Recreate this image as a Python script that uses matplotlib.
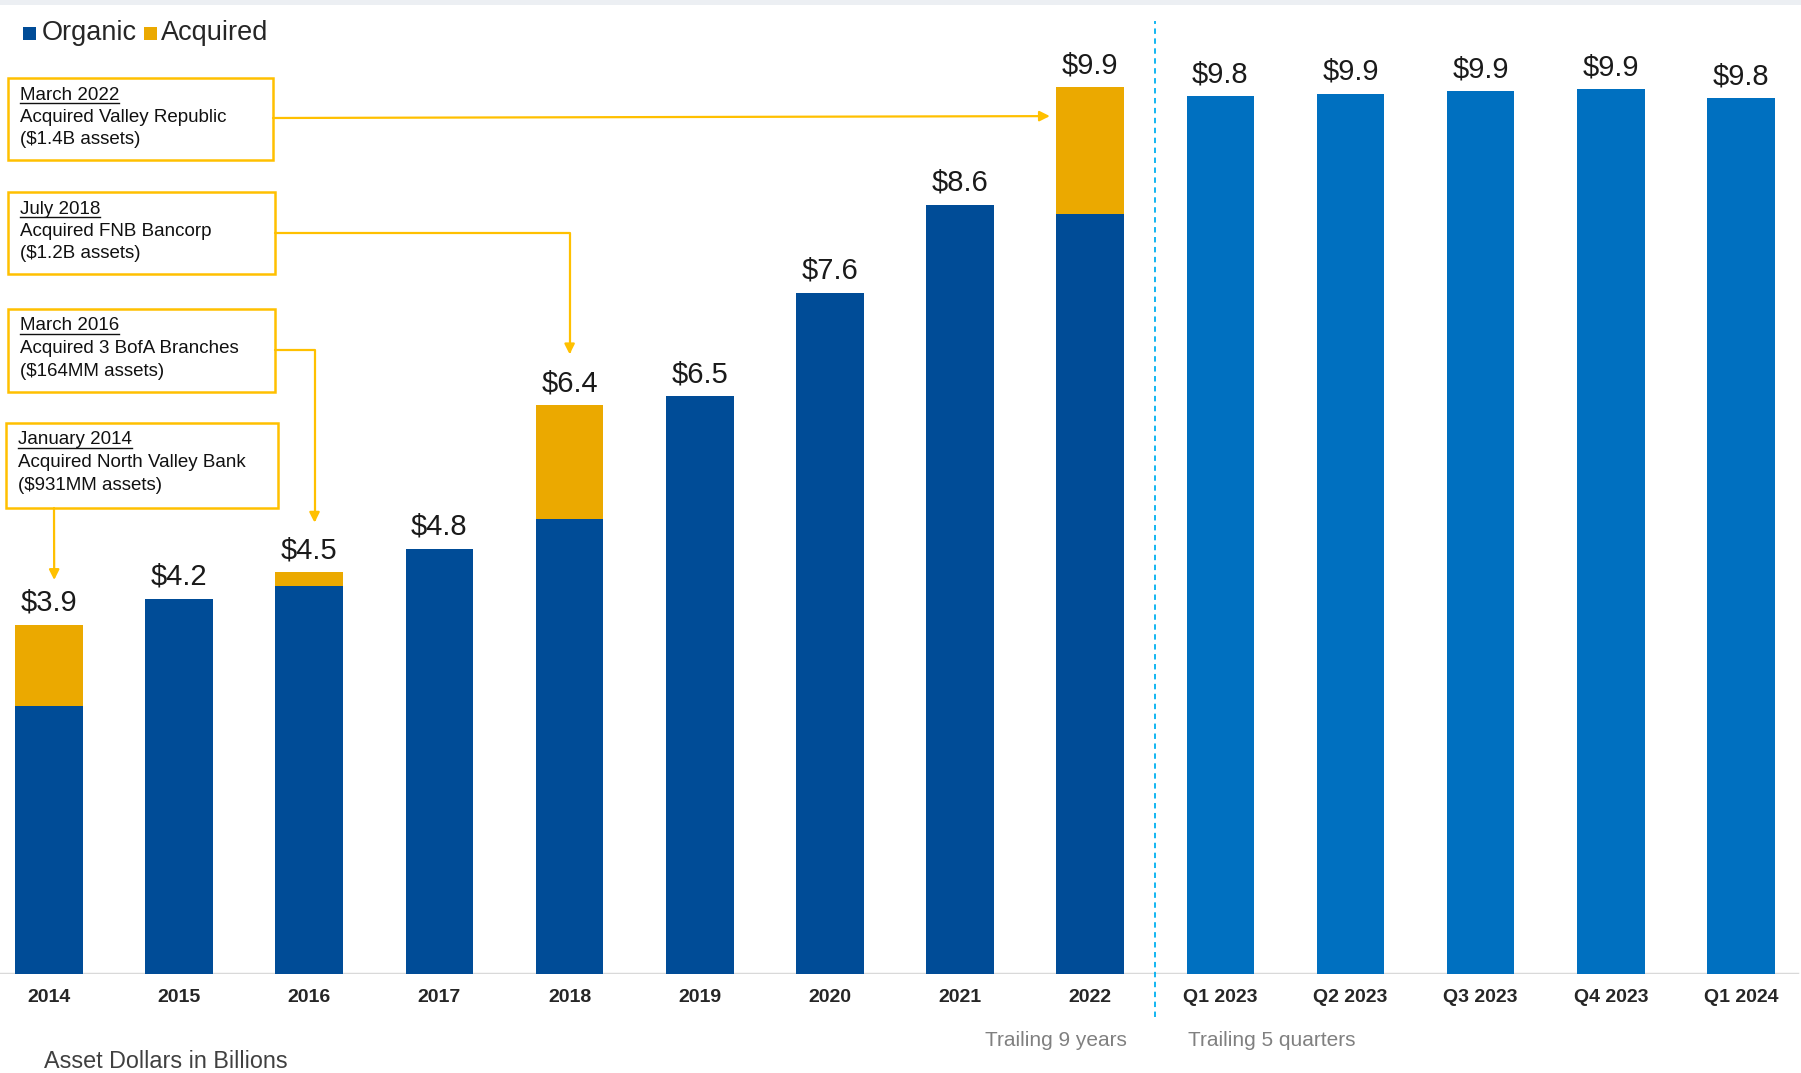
import matplotlib
matplotlib.use('Agg')
import matplotlib.pyplot as plt
import numpy as np
from matplotlib.patches import Rectangle
from matplotlib.lines import Line2D

plt.rcParams['font.family'] = ['Liberation Sans', 'DejaVu Sans']

# data (asset dollars in billions)
periods = ['2014', '2015', '2016', '2017', '2018', '2019', '2020', '2021', '2022',
           'Q1 2023', 'Q2 2023', 'Q3 2023', 'Q4 2023', 'Q1 2024']
organic = [2.99, 4.19, 4.33, 4.75, 5.08, 6.45, 7.61, 8.59, 8.49,
           9.80, 9.83, 9.86, 9.88, 9.78]
acquired = [0.91, 0, 0.16, 0, 1.27, 0, 0, 0, 1.41,
            0, 0, 0, 0, 0]
value_labels = ['$3.9', '$4.2', '$4.5', '$4.8', '$6.4', '$6.5', '$7.6', '$8.6', '$9.9',
                '$9.8', '$9.9', '$9.9', '$9.9', '$9.8']
n_years = 9

# acquisition notes: (underlined heading, line 2, line 3)
notes = [
    ('March 2022', 'Acquired Valley Republic', '($1.4B assets)'),
    ('July 2018', 'Acquired FNB Bancorp', '($1.2B assets)'),
    ('March 2016', 'Acquired 3 BofA Branches', '($164MM assets)'),
    ('January 2014', 'Acquired North Valley Bank', '($931MM assets)'),
]

organic_color = '#004C97'
quarter_color = '#0070C0'
acq_color = '#EBA900'
note_color = '#FFC000'

W, H = 1801, 1073
fig = plt.figure(figsize=(W / 100, H / 100), dpi=100)


def fx(px):
    return px / W


def fy(py):
    # py measured from the top of the image
    return 1 - py / H


# axes geometry (pixels)
base_px = 974
px_per_unit = 89.55
x0_px, step_px = 49, 130.15

ax = fig.add_axes([0, (H - base_px) / H, 1, base_px / H])
ax.set_xlim(-x0_px / step_px, (W - x0_px) / step_px)
ax.set_ylim(0, base_px / px_per_unit)

x = np.arange(len(periods))
bar_w = 0.52
bar_colors = [organic_color] * n_years + [quarter_color] * (len(periods) - n_years)
ax.bar(x, organic, width=bar_w, color=bar_colors, zorder=2)
ax.bar(x, acquired, bottom=organic, width=bar_w, color=acq_color, zorder=2)

totals = [o + a for o, a in zip(organic, acquired)]
for i, lab in enumerate(value_labels):
    ax.annotate(lab, (x[i], totals[i]), xytext=(0, 10), textcoords='offset points',
                ha='center', va='baseline', fontsize=21, color='#1a1a1a')

ax.set_xticks(x, periods, fontsize=14, fontweight='bold', color='#262626')
ax.tick_params(axis='x', length=0, pad=11)
ax.set_yticks([])
for s in ax.spines.values():
    s.set_visible(False)
ax.axhline(0, xmin=0, xmax=1797 / W, color='#d9d9d9', lw=2.5, zorder=1)

# divider between years and quarters
ax.plot([n_years - 0.5, n_years - 0.5], [-0.48, 10.64], color='#00B0F0', lw=1.3,
        ls=(0, (3, 2.5)), clip_on=False, zorder=1)

# top strip
fig.add_artist(Rectangle((0, fy(5)), 1, 5 / H, transform=fig.transFigure,
                         color='#eceff3', lw=0))

# legend
fig.add_artist(Rectangle((fx(23), fy(40)), 13 / W, 13 / H, transform=fig.transFigure,
                         color=organic_color, lw=0))
fig.text(fx(42), fy(33), 'Organic', fontsize=19.5, va='center', ha='left', color='#262626')
fig.add_artist(Rectangle((fx(144), fy(40)), 13 / W, 13 / H, transform=fig.transFigure,
                         color=acq_color, lw=0))
fig.text(fx(161), fy(33), 'Acquired', fontsize=19.5, va='center', ha='left', color='#262626')

# note boxes: (left, top, right, bottom, text x, first line y)
boxes = [
    (8, 78, 273, 160, 20, 95),
    (8, 192, 275, 274, 20, 209),
    (8, 309, 275, 392, 20, 326),
    (6, 423, 278, 508, 18, 440),
]
renderer = fig.canvas.get_renderer()
for (l, t, r, b, tx, ty), note in zip(boxes, notes):
    fig.add_artist(Rectangle((fx(l), fy(b)), (r - l) / W, (b - t) / H,
                             transform=fig.transFigure, fill=False,
                             ec=note_color, lw=1.8))
    for k, line in enumerate(note):
        txt = fig.text(fx(tx), fy(ty + 22.5 * k), line, fontsize=13.5,
                       va='center', ha='left', color='#111111')
        if k == 0:
            bb = txt.get_window_extent(renderer)
            fig.add_artist(Line2D([fx(tx), fx(tx) + bb.width / W],
                                  [fy(ty + 8), fy(ty + 8)],
                                  transform=fig.transFigure, color='#111111', lw=1))

# connectors from the notes to the bars
arrow = dict(arrowstyle='-|>,head_length=0.6,head_width=0.3', color=note_color,
             lw=1.6, shrinkA=0, shrinkB=0)
# March 2022 -> 2022 bar
ax.annotate('', xy=(8 - bar_w / 2 - 0.05, 9.58), xycoords='data',
            xytext=(273, H - 118), textcoords='figure pixels', arrowprops=arrow)
# July 2018 -> 2018 bar
ax.annotate('', xy=(4.0, 6.92), xycoords='data',
            xytext=(275, H - 233), textcoords='figure pixels',
            arrowprops=dict(arrow, connectionstyle='angle,angleA=0,angleB=90,rad=0'))
# March 2016 -> 2016 bar
ax.annotate('', xy=(2.04, 5.04), xycoords='data',
            xytext=(275, H - 350), textcoords='figure pixels',
            arrowprops=dict(arrow, connectionstyle='angle,angleA=0,angleB=90,rad=0'))
# January 2014 -> 2014 bar
ax.annotate('', xy=(0.04, 4.40), xycoords='data',
            xytext=(54, H - 508), textcoords='figure pixels', arrowprops=arrow)

# footer texts
fig.text(fx(1056), fy(1041), 'Trailing 9 years', fontsize=15, ha='center', va='center',
         color='#808080')
fig.text(fx(1272), fy(1041), 'Trailing 5 quarters', fontsize=15, ha='center', va='center',
         color='#808080')
fig.text(fx(44), fy(1062), 'Asset Dollars in Billions', fontsize=16.8, ha='left', va='center',
         color='#404040')

fig.savefig('out.png', dpi=100)
